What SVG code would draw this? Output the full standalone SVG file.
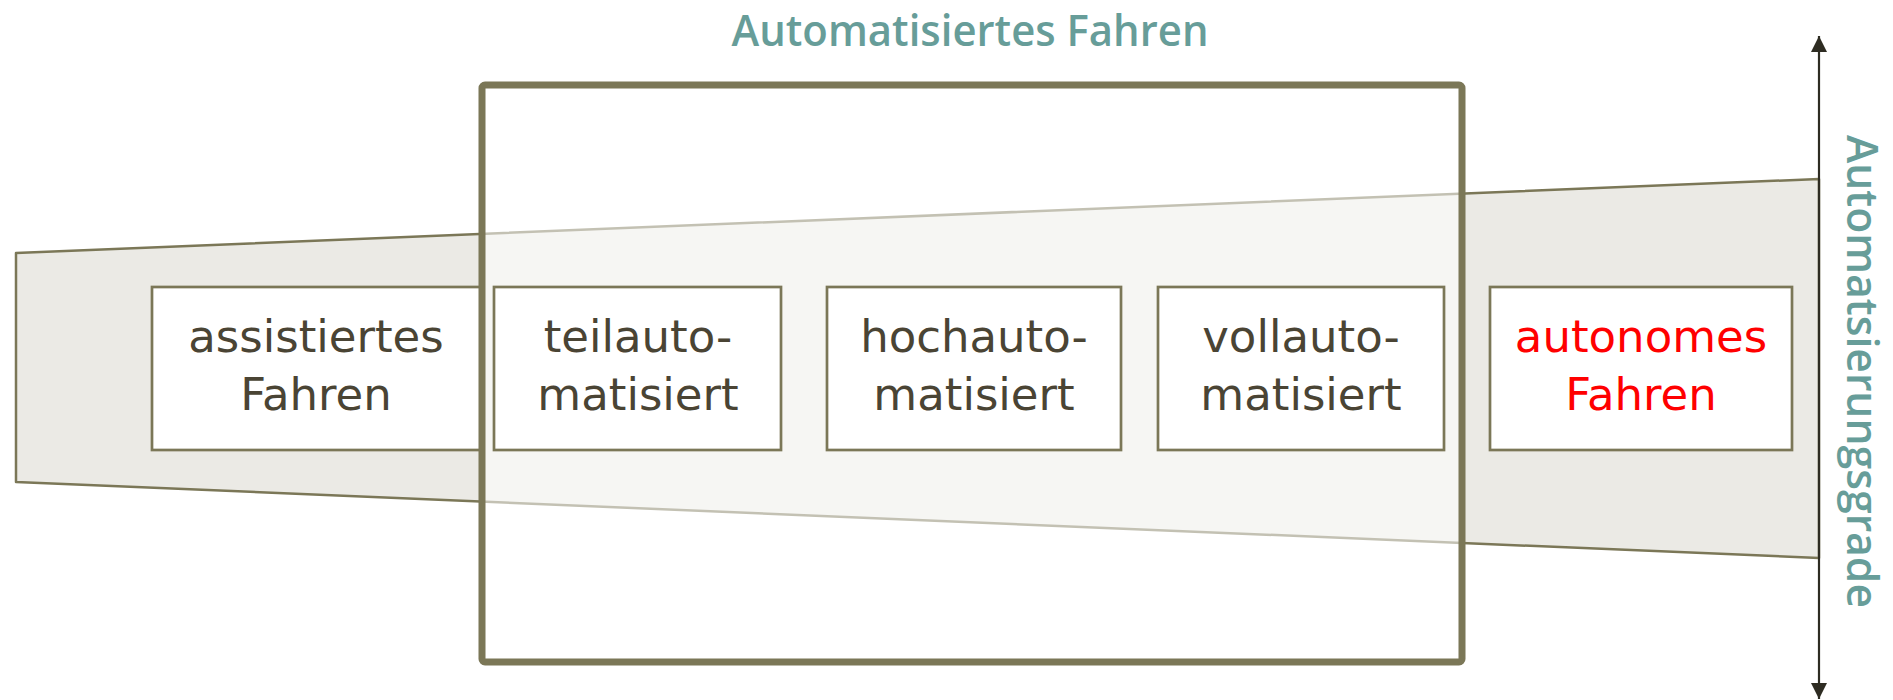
<svg xmlns="http://www.w3.org/2000/svg" width="1893" height="700" viewBox="0 0 1893 700">
  <style>
    .box { fill: #ffffff; stroke: #7b7757; stroke-width: 2.7; }
    .lbl { font-family: "DejaVu Sans", "Liberation Sans", sans-serif; font-size: 45px; fill: #4a4434; text-anchor: middle; }
    .red { fill: #ff0000; }
    .teal { font-family: "Open Sans", "Liberation Sans", sans-serif; font-size: 44px; font-weight: 600; fill: #679d99; }
  </style>
  <defs>
    <marker id="ah" markerWidth="16" markerHeight="16" refX="16" refY="8" orient="auto-start-reverse" markerUnits="userSpaceOnUse">
      <path d="M0,0 L16,8 L0,16 Z" fill="#2e2c22"/>
    </marker>
  </defs>
  <rect width="1893" height="700" fill="#ffffff"/>

  <g id="band">
    <polygon points="16,253 1819,179 1819,558 16,482" fill="#ebeae5" stroke="#7b7757" stroke-width="2.5" stroke-linejoin="round"/>
  </g>

  <g id="node-assistiert">
    <rect class="box" x="152" y="287" width="330" height="163"/>
    <text class="lbl" x="316" y="352">assistiertes</text>
    <text class="lbl" x="316" y="410">Fahren</text>
  </g>

  <g id="frame-automatisiert">
    <rect x="482" y="85" width="980" height="577" rx="3" fill="#ffffff" fill-opacity="0.55" stroke="#7b7757" stroke-width="7"/>
    <text class="teal" x="970" y="46" text-anchor="middle" textLength="477" lengthAdjust="spacingAndGlyphs">Automatisiertes Fahren</text>
  </g>

  <g id="node-teilautomatisiert">
    <rect class="box" x="494" y="287" width="287" height="163"/>
    <text class="lbl" x="638" y="352">teilauto-</text>
    <text class="lbl" x="638" y="410">matisiert</text>
  </g>

  <g id="node-hochautomatisiert">
    <rect class="box" x="827" y="287" width="294" height="163"/>
    <text class="lbl" x="974" y="352">hochauto-</text>
    <text class="lbl" x="974" y="410">matisiert</text>
  </g>

  <g id="node-vollautomatisiert">
    <rect class="box" x="1158" y="287" width="286" height="163"/>
    <text class="lbl" x="1301" y="352">vollauto-</text>
    <text class="lbl" x="1301" y="410">matisiert</text>
  </g>

  <g id="node-autonom">
    <rect class="box" x="1490" y="287" width="302" height="163"/>
    <text class="lbl red" x="1641" y="352">autonomes</text>
    <text class="lbl red" x="1641" y="410">Fahren</text>
  </g>

  <g id="connectors">
    <line x1="1819" y1="36" x2="1819" y2="699" stroke="#2e2c22" stroke-width="2.2" marker-start="url(#ah)" marker-end="url(#ah)"/>
  </g>

  <g id="axis-label">
    <text class="teal" transform="translate(1847,135) rotate(90)" x="0" y="0" font-size="43" textLength="473" lengthAdjust="spacingAndGlyphs">Automatsierungsgrade</text>
  </g>
</svg>
